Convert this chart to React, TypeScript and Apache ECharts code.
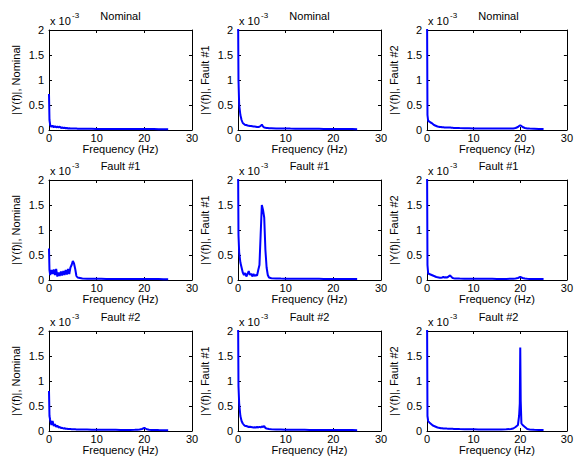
import React, { useEffect, useRef } from "react";
import * as echarts from "echarts";

// Frequency grid (Hz), shared by all panels
const FREQ = [
  0, 0.1, 0.25, 0.5, 0.75, 1, 1.25, 1.5, 1.75, 2, 2.25, 2.5, 2.75, 3, 3.25, 3.5, 3.75, 4, 4.25, 4.5,
  4.75, 5, 5.25, 5.5, 5.75, 6, 6.25, 6.5, 7, 8, 9, 10, 11, 12, 13, 14, 15, 16, 17, 18, 18.5, 19, 19.5,
  19.75, 19.9, 20, 20.1, 20.25, 20.5, 21, 21.5, 22, 23, 24, 25,
];

const ROW_TITLES = ["Nominal", "Fault #1", "Fault #2"];
const COL_YLABELS = ["|Y(f)|, Nominal", "|Y(f)|, Fault #1", "|Y(f)|, Fault #2"];
const X_AXIS_NAME = "Frequency (Hz)";
const X_RANGE = [0, 30];
const X_STEP = 10;
const Y_RANGE = [0, 2];
const Y_STEP = 0.5;
const EXPONENT = "-3";

// |Y(f)| values in units of 1e-3; rows = signal condition, cols = model
const NOMINAL_NOMINAL = [
  0.72, 0.2, 0.1, 0.06, 0.09, 0.05, 0.08, 0.05, 0.07, 0.05, 0.07, 0.04, 0.05, 0.04, 0.045, 0.035, 0.04, 0.03, 0.035, 0.03,
  0.03, 0.03, 0.03, 0.028, 0.028, 0.027, 0.027, 0.026, 0.025, 0.024, 0.023, 0.022, 0.02, 0.02, 0.02, 0.02, 0.02, 0.02, 0.02, 0.02, 0.02, 0.02, 0.02,
  0.02, 0.02, 0.02, 0.02, 0.02, 0.02, 0.018, 0.018, 0.018, 0.017, 0.016, 0.015,
];
const NOMINAL_FAULT1 = [
  2.6, 1.0, 0.5, 0.3, 0.2, 0.14, 0.12, 0.1, 0.1, 0.09, 0.085, 0.08, 0.08, 0.075, 0.07, 0.07, 0.065, 0.06, 0.06, 0.065,
  0.08, 0.11, 0.07, 0.05, 0.045, 0.04, 0.038, 0.036, 0.035, 0.032, 0.03, 0.03, 0.028, 0.027, 0.026, 0.025, 0.025, 0.024, 0.023, 0.022, 0.022, 0.022, 0.022,
  0.022, 0.022, 0.023, 0.022, 0.022, 0.021, 0.021, 0.02, 0.02, 0.019, 0.018, 0.017,
];
const NOMINAL_FAULT2 = [
  2.6, 0.3, 0.18, 0.17, 0.15, 0.14, 0.12, 0.1, 0.09, 0.08, 0.07, 0.065, 0.06, 0.06, 0.055, 0.055, 0.05, 0.05, 0.05, 0.048,
  0.048, 0.05, 0.045, 0.044, 0.042, 0.04, 0.04, 0.04, 0.038, 0.036, 0.034, 0.032, 0.031, 0.03, 0.03, 0.029, 0.028, 0.028, 0.028, 0.03, 0.032, 0.04, 0.06,
  0.08, 0.09, 0.095, 0.09, 0.08, 0.06, 0.04, 0.032, 0.028, 0.025, 0.022, 0.02,
];
const FAULT1_NOMINAL = [
  0.63, 0.2, 0.1, 0.2, 0.12, 0.21, 0.1, 0.22, 0.07, 0.15, 0.08, 0.17, 0.09, 0.18, 0.1, 0.2, 0.11, 0.22, 0.12, 0.25,
  0.3, 0.38, 0.33, 0.22, 0.08, 0.05, 0.045, 0.04, 0.03, 0.027, 0.025, 0.024, 0.023, 0.022, 0.021, 0.02, 0.02, 0.02, 0.02, 0.02, 0.02, 0.02, 0.02,
  0.02, 0.02, 0.02, 0.02, 0.02, 0.02, 0.019, 0.019, 0.018, 0.018, 0.017, 0.017,
];
const FAULT1_FAULT1 = [
  2.6, 0.9, 0.55, 0.35, 0.25, 0.15, 0.1, 0.14, 0.07, 0.12, 0.18, 0.1, 0.13, 0.07, 0.12, 0.08, 0.1, 0.09, 0.2, 0.3,
  0.9, 1.5, 1.4, 1.25, 0.6, 0.25, 0.1, 0.05, 0.035, 0.03, 0.028, 0.027, 0.026, 0.025, 0.025, 0.024, 0.024, 0.023, 0.023, 0.022, 0.022, 0.022, 0.022,
  0.022, 0.022, 0.022, 0.022, 0.022, 0.022, 0.021, 0.021, 0.02, 0.02, 0.019, 0.018,
];
const FAULT1_FAULT2 = [
  2.6, 0.3, 0.13, 0.12, 0.11, 0.1, 0.09, 0.08, 0.07, 0.06, 0.055, 0.05, 0.045, 0.045, 0.05, 0.06, 0.05, 0.055, 0.05, 0.06,
  0.08, 0.09, 0.06, 0.04, 0.035, 0.032, 0.03, 0.03, 0.028, 0.027, 0.026, 0.025, 0.024, 0.024, 0.023, 0.023, 0.022, 0.022, 0.022, 0.024, 0.026, 0.03, 0.04,
  0.05, 0.06, 0.065, 0.06, 0.05, 0.04, 0.03, 0.025, 0.022, 0.02, 0.019, 0.018,
];
const FAULT2_NOMINAL = [
  0.8, 0.3, 0.22, 0.12, 0.2, 0.1, 0.14, 0.08, 0.11, 0.07, 0.08, 0.06, 0.065, 0.05, 0.055, 0.045, 0.045, 0.04, 0.04, 0.038,
  0.036, 0.035, 0.034, 0.033, 0.032, 0.031, 0.03, 0.03, 0.029, 0.028, 0.027, 0.026, 0.025, 0.024, 0.023, 0.023, 0.022, 0.022, 0.022, 0.023, 0.025, 0.03, 0.04,
  0.05, 0.06, 0.065, 0.06, 0.05, 0.035, 0.025, 0.02, 0.02, 0.018, 0.017, 0.016,
];
const FAULT2_FAULT1 = [
  2.6, 0.9, 0.55, 0.3, 0.2, 0.15, 0.12, 0.1, 0.1, 0.09, 0.08, 0.085, 0.08, 0.075, 0.07, 0.075, 0.07, 0.08, 0.07, 0.085,
  0.07, 0.09, 0.08, 0.1, 0.06, 0.05, 0.045, 0.04, 0.035, 0.03, 0.028, 0.026, 0.025, 0.024, 0.023, 0.023, 0.022, 0.022, 0.021, 0.021, 0.021, 0.021, 0.021,
  0.021, 0.021, 0.021, 0.021, 0.021, 0.021, 0.02, 0.02, 0.02, 0.019, 0.018, 0.017,
];
const FAULT2_FAULT2 = [
  2.6, 0.3, 0.2, 0.17, 0.15, 0.13, 0.11, 0.1, 0.09, 0.08, 0.07, 0.065, 0.06, 0.055, 0.055, 0.05, 0.05, 0.05, 0.048, 0.047,
  0.046, 0.045, 0.044, 0.043, 0.042, 0.041, 0.04, 0.04, 0.038, 0.036, 0.034, 0.033, 0.032, 0.032, 0.031, 0.031, 0.031, 0.032, 0.033, 0.04, 0.05, 0.08, 0.12,
  0.3, 0.55, 1.67, 0.6, 0.15, 0.12, 0.08, 0.04, 0.03, 0.025, 0.022, 0.02,
];

const PANELS = [
  [NOMINAL_NOMINAL, NOMINAL_FAULT1, NOMINAL_FAULT2],
  [FAULT1_NOMINAL, FAULT1_FAULT1, FAULT1_FAULT2],
  [FAULT2_NOMINAL, FAULT2_FAULT1, FAULT2_FAULT2],
];

const FONT = "'Liberation Sans', Arial, Helvetica, sans-serif";
const GRID_LEFTS = [49, 238, 427];
const GRID_TOPS = [30, 180, 331];
const GRID_W = 143;
const GRID_H = 100;

export default function App() {
  const ref = useRef<HTMLDivElement>(null);

  useEffect(() => {
    if (!ref.current) return;
    const chart = echarts.init(ref.current, undefined, { renderer: "svg" });

    const grids: any[] = [];
    const xAxes: any[] = [];
    const yAxes: any[] = [];
    const series: any[] = [];
    const graphics: any[] = [];

    const axisLine = { show: true, onZero: false, lineStyle: { color: "#000", width: 1 } };
    const tick = { show: true, inside: true, length: 3, lineStyle: { color: "#000" } };
    const label = { color: "#000", fontSize: 11, fontFamily: FONT };

    for (let r = 0; r < 3; r++) {
      for (let c = 0; c < 3; c++) {
        const g = grids.length;
        const left = GRID_LEFTS[c];
        const top = GRID_TOPS[r];
        grids.push({ left, top, width: GRID_W, height: GRID_H, containLabel: false });

        const xBase = {
          type: "value",
          gridIndex: g,
          min: X_RANGE[0],
          max: X_RANGE[1],
          interval: X_STEP,
          splitLine: { show: false },
          axisLine,
          axisTick: tick,
        };
        const yBase = {
          type: "value",
          gridIndex: g,
          min: Y_RANGE[0],
          max: Y_RANGE[1],
          interval: Y_STEP,
          splitLine: { show: false },
          axisLine,
          axisTick: tick,
        };
        const xIdx = xAxes.length;
        xAxes.push({
          ...xBase,
          position: "bottom",
          axisLabel: { ...label, margin: 2 },
          name: X_AXIS_NAME,
          nameLocation: "middle",
          nameGap: 10,
          nameTextStyle: { ...label },
        });
        xAxes.push({ ...xBase, position: "top", axisLabel: { show: false } });
        const yIdx = yAxes.length;
        yAxes.push({
          ...yBase,
          position: "left",
          axisLabel: { ...label, margin: 5 },
          name: COL_YLABELS[c],
          nameLocation: "middle",
          nameGap: 28,
          nameTextStyle: { ...label },
        });
        yAxes.push({ ...yBase, position: "right", axisLabel: { show: false } });

        series.push({
          type: "line",
          xAxisIndex: xIdx,
          yAxisIndex: yIdx,
          data: FREQ.map((f, i) => [f, PANELS[r][c][i]]),
          showSymbol: false,
          symbol: "none",
          clip: true,
          lineStyle: { color: "#0000ff", width: 2 },
        });

        graphics.push({
          type: "text",
          x: left + GRID_W / 2,
          y: top - 14,
          style: {
            text: ROW_TITLES[r],
            fill: "#000",
            font: `11px ${FONT}`,
            align: "center",
            verticalAlign: "middle",
          },
        });
        graphics.push({
          type: "text",
          x: left + 1,
          y: top - 9,
          style: {
            text: "x 10",
            fill: "#000",
            font: `11px ${FONT}`,
            align: "left",
            verticalAlign: "middle",
          },
        });
        graphics.push({
          type: "text",
          x: left + 23,
          y: top - 15,
          style: {
            text: EXPONENT,
            fill: "#000",
            font: `8px ${FONT}`,
            align: "left",
            verticalAlign: "middle",
          },
        });
      }
    }

    chart.setOption({
      animation: false,
      backgroundColor: "#fff",
      grid: grids,
      xAxis: xAxes,
      yAxis: yAxes,
      series,
      graphic: graphics,
    });

    return () => chart.dispose();
  }, []);

  return (
    <div
      ref={ref}
      style={{ position: "absolute", left: 0, top: 0, width: 576, height: 461, background: "#fff" }}
    />
  );
}
